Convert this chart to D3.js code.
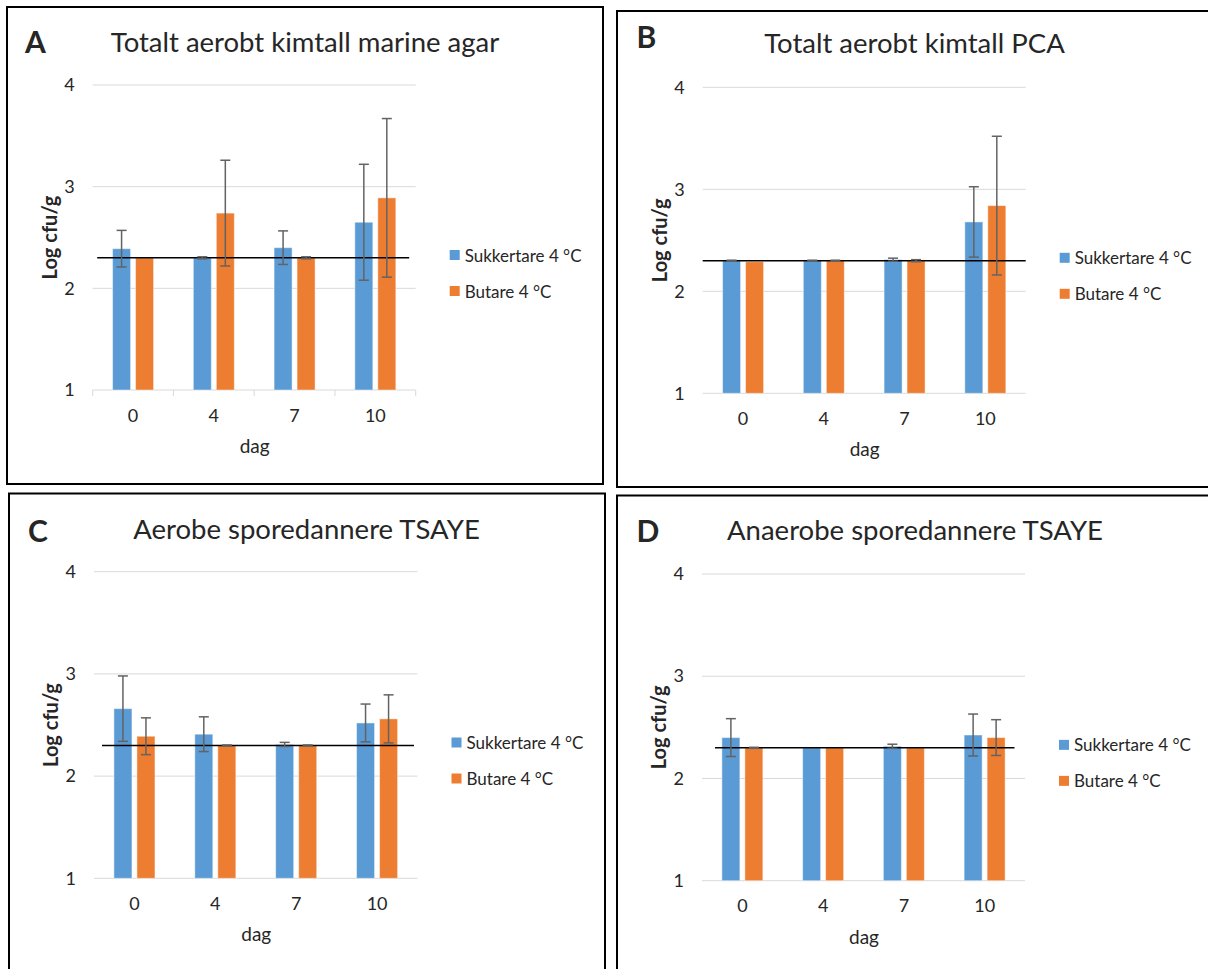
<!DOCTYPE html>
<html>
<head>
<meta charset="utf-8">
<script src="https://cdn.jsdelivr.net/npm/d3@7"></script>
<style>
  html, body { margin: 0; padding: 0; background: #ffffff; }
  svg { display: block; }
  text { font-family: Lato, "Open Sans", "Noto Sans", sans-serif; fill: #262626; }
</style>
</head>
<body>
<svg id="chart" width="1208" height="969"></svg>
<script>
// ---- data ----
const days = ["0", "4", "7", "10"];
const seriesNames = ["Sukkertare 4 °C", "Butare 4 °C"];
const seriesColors = ["#5B9BD5", "#ED7D31"];
const yTicks = [1, 2, 3, 4];
const detectionLimit = 2.3;

const panelLetters = ["A", "B", "C", "D"];
const panelTitles = [
  "Totalt aerobt kimtall marine agar",
  "Totalt aerobt kimtall PCA",
  "Aerobe sporedannere TSAYE",
  "Anaerobe sporedannere TSAYE"
];

// mean log cfu/g per day, and error (±)
const sukkertareA = [2.39, 2.30, 2.40, 2.65];
const sukkertareErrA = [0.18, 0.01, 0.165, 0.57];
const butareA = [2.30, 2.74, 2.30, 2.89];
const butareErrA = [0, 0.52, 0.01, 0.78];

const sukkertareB = [2.30, 2.30, 2.31, 2.68];
const sukkertareErrB = [0.005, 0.005, 0.015, 0.345];
const butareB = [2.29, 2.30, 2.30, 2.84];
const butareErrB = [0, 0.005, 0.01, 0.68];

const sukkertareC = [2.66, 2.41, 2.31, 2.52];
const sukkertareErrC = [0.32, 0.17, 0.02, 0.185];
const butareC = [2.39, 2.30, 2.30, 2.56];
const butareErrC = [0.18, 0.005, 0.005, 0.235];

const sukkertareD = [2.40, 2.30, 2.315, 2.425];
const sukkertareErrD = [0.185, 0, 0.02, 0.205];
const butareD = [2.30, 2.30, 2.30, 2.40];
const butareErrD = [0.005, 0, 0, 0.175];

// ---- layout ----
const panels = [
  { frame: [7, 7, 596, 477], plot: [92.7, 85, 323, 305], letter: [25, 53], titleX: 305, titleY: 52,
    limitX: [4.5, 316.5], xTicks: true,
    means: [sukkertareA, butareA], errs: [sukkertareErrA, butareErrA] },
  { frame: [617, 11, 620, 476], plot: [702.7, 87.3, 323, 306], letter: [636.5, 47.5], titleX: 914.5, titleY: 53,
    limitX: [0, 323], xTicks: false,
    means: [sukkertareB, butareB], errs: [sukkertareErrB, butareErrB] },
  { frame: [9, 493.5, 596, 500], plot: [94, 571.7, 323.5, 306.6], letter: [28, 541.5], titleX: 306.5, titleY: 538.5,
    limitX: [8, 320], xTicks: false,
    means: [sukkertareC, butareC], errs: [sukkertareErrC, butareErrC] },
  { frame: [617, 495.5, 620, 500], plot: [702, 574, 323, 306.7], letter: [636.5, 541.5], titleX: 915, titleY: 540,
    limitX: [13, 312.5], xTicks: false,
    means: [sukkertareD, butareD], errs: [sukkertareErrD, butareErrD] }
];

const svg = d3.select("#chart");
const labelFont = "Lato, 'Open Sans', sans-serif";

panels.forEach((p, i) => {
  const [fx, fy, fw, fh] = p.frame;
  svg.append("rect")
    .attr("x", fx).attr("y", fy).attr("width", fw).attr("height", fh)
    .attr("fill", "none").attr("stroke", "#000").attr("stroke-width", 2);

  const [px, py, pw, ph] = p.plot;
  const g = svg.append("g").attr("transform", `translate(${px},${py})`);

  const x0 = d3.scaleBand().domain(days).range([0, pw]).paddingInner(0).paddingOuter(0);
  const x1 = d3.scaleBand().domain(seriesNames).range([0, x0.bandwidth()])
    .paddingInner(0.217).paddingOuter(0.865);
  const y = d3.scaleLinear().domain([1, 4]).range([ph, 0]);

  // gridlines
  g.append("g").selectAll("line").data(yTicks).join("line")
    .attr("x1", 0).attr("x2", pw)
    .attr("y1", d => y(d)).attr("y2", d => y(d))
    .attr("stroke", "#d9d9d9").attr("stroke-width", 1);

  // y axis labels
  const yAxis = d3.axisLeft(y).tickValues(yTicks).tickSize(0).tickPadding(18).tickFormat(d3.format("d"));
  const ya = g.append("g").call(yAxis);
  ya.select(".domain").remove();
  ya.selectAll("text").attr("font-size", 18).attr("fill", "#404040")
    .style("font-family", labelFont);

  // x axis
  const xAxis = d3.axisBottom(x0).tickSize(0).tickPadding(19);
  const xa = g.append("g").attr("transform", `translate(0,${ph})`).call(xAxis);
  xa.select(".domain").remove();
  xa.selectAll("text").attr("font-size", 18).attr("fill", "#404040")
    .style("font-family", labelFont);
  if (p.xTicks) {
    const bounds = days.map(d => x0(d)).concat([pw]);
    g.append("g").selectAll("line").data(bounds).join("line")
      .attr("x1", d => d).attr("x2", d => d)
      .attr("y1", ph).attr("y2", ph + 6)
      .attr("stroke", "#d9d9d9").attr("stroke-width", 1);
  }

  // bars
  seriesNames.forEach((s, si) => {
    const rows = days.map((d, di) => ({ day: d, v: p.means[si][di], e: p.errs[si][di] }));
    g.append("g").selectAll("rect").data(rows).join("rect")
      .attr("x", d => x0(d.day) + x1(s))
      .attr("width", x1.bandwidth())
      .attr("y", d => y(d.v))
      .attr("height", d => y(1) - y(d.v))
      .attr("fill", seriesColors[si])
      .attr("stroke", "#ffffff").attr("stroke-opacity", 0.45).attr("stroke-width", 1);
  });

  // detection limit line
  g.append("line")
    .attr("x1", p.limitX[0]).attr("x2", p.limitX[1])
    .attr("y1", y(detectionLimit)).attr("y2", y(detectionLimit))
    .attr("stroke", "#000").attr("stroke-width", 1.5);

  // error bars
  seriesNames.forEach((s, si) => {
    const rows = days.map((d, di) => ({ day: d, v: p.means[si][di], e: p.errs[si][di] }))
      .filter(d => d.e > 0);
    const eg = g.append("g").attr("stroke", "#636363").attr("stroke-width", 1.5);
    const cx = d => x0(d.day) + x1(s) + x1.bandwidth() / 2;
    eg.selectAll("line.v").data(rows).join("line").attr("class", "v")
      .attr("x1", cx).attr("x2", cx)
      .attr("y1", d => y(d.v + d.e)).attr("y2", d => y(d.v - d.e));
    ["top", "bot"].forEach(k => {
      eg.selectAll("line." + k).data(rows).join("line").attr("class", k)
        .attr("x1", d => cx(d) - 5).attr("x2", d => cx(d) + 5)
        .attr("y1", d => y(k === "top" ? d.v + d.e : d.v - d.e))
        .attr("y2", d => y(k === "top" ? d.v + d.e : d.v - d.e));
    });
  });

  // axis titles
  g.append("text")
    .attr("transform", `translate(-44,${ph / 2}) rotate(-90)`)
    .attr("text-anchor", "middle").attr("dominant-baseline", "central")
    .attr("font-size", 20).attr("font-weight", "bold").attr("fill", "#000")
    .text("Log cfu/g");
  g.append("text")
    .attr("x", pw / 2 + 0.5).attr("y", ph + 63)
    .attr("text-anchor", "middle")
    .attr("font-size", 19).attr("fill", "#404040")
    .text("dag");

  // legend
  const lg = g.append("g").attr("transform", `translate(${pw + 34},${ph / 2})`);
  seriesNames.forEach((s, si) => {
    const cy = 17.5 + si * 36;
    lg.append("rect").attr("x", 0).attr("y", cy - 5).attr("width", 10).attr("height", 10)
      .attr("fill", seriesColors[si]);
    lg.append("text").attr("x", 15).attr("y", cy).attr("dominant-baseline", "central")
      .attr("font-size", 17).attr("fill", "#404040").text(s);
  });

  // panel letter and title
  svg.append("text").attr("x", p.letter[0]).attr("y", p.letter[1])
    .attr("font-size", 30).attr("font-weight", "bold").attr("fill", "#000")
    .text(panelLetters[i]);
  svg.append("text").attr("x", p.titleX).attr("y", p.titleY)
    .attr("text-anchor", "middle").attr("font-size", 27.5).attr("fill", "#000")
    .text(panelTitles[i]);
});
</script>
</body>
</html>
